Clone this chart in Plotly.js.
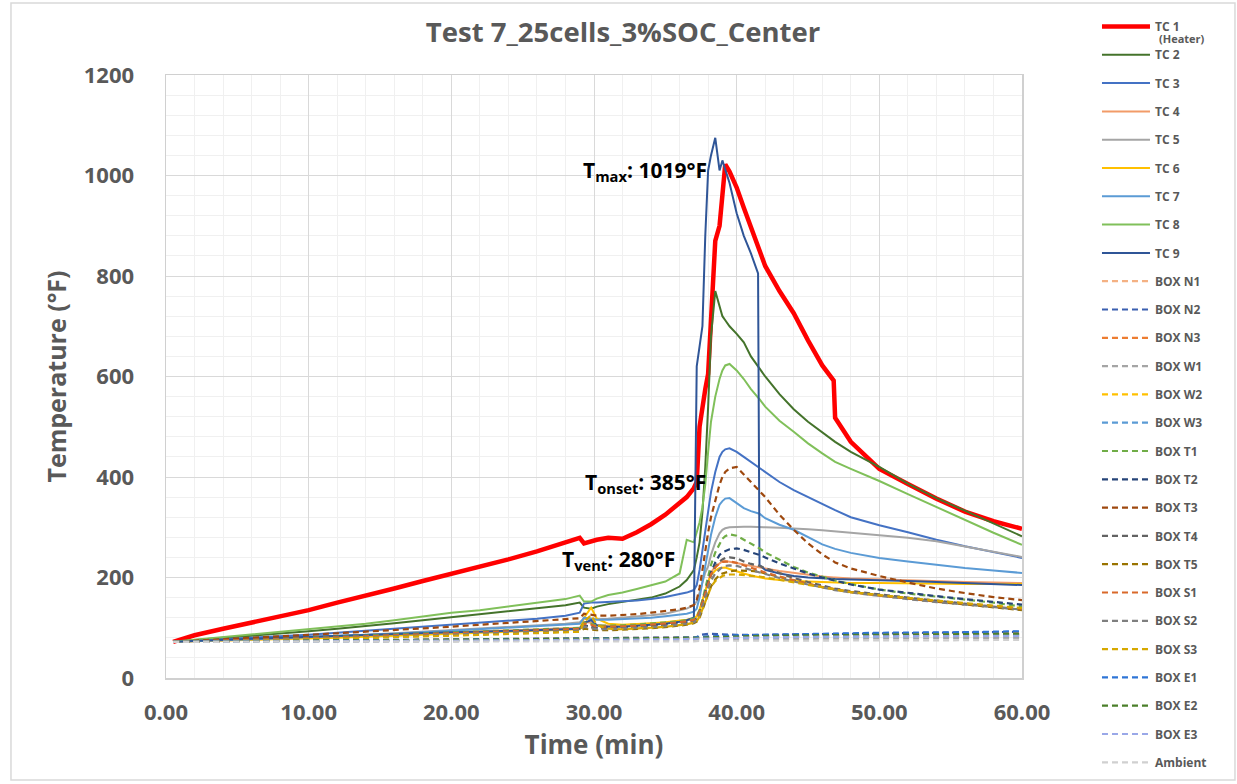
<!DOCTYPE html>
<html><head><meta charset="utf-8">
<script src="https://cdn.plot.ly/plotly-3.0.1.min.js"></script>
<style>html,body{margin:0;padding:0;background:#fff}#chart{width:1237px;height:784px}</style>
</head><body><div id="chart"></div>
<script>
// time grids (min)
const tA = [0.5,2,4,6,8,10,12,14,16,18,
  20,22,24,26,28,29,29.3,29.8,30.2,31,
  32,33,34,35,36,36.5,37,37.2,37.4,37.6,
  37.8,38,38.2,38.5,38.8,39,39.2,39.5,40,40.5,
  41,41.5,41.6,42,43,44,45,46,46.8,46.9,
  48,50,52,54,56,58,60];
const tB = [0.5,5,10,15,20,25,29,30,33,36,37,37.5,38,39,40,42,45,50,55,60];

// thermocouples (°F) on tA
const tc1 = [72,85,98,110,122,135,150,163,178,193,
  207,222,236,252,270,279,268,272,275,279,
  277,290,306,325,348,360,378,390,500,545,
  575,605,700,870,900,960,1022,1008,976,936,
  896,856,848,820,770,726,672,622,592,518,
  470,416,386,357,331,312,297];
const tc2 = [72,76,80,84,88,93,98,103,109,115,
  121,127,133,139,145,150,140,138,142,147,
  151,155,160,168,182,195,215,240,270,330,
  420,540,680,770,740,720,712,700,685,668,
  640,620,617,600,565,535,510,488,472,470,
  450,420,387,358,333,308,282];
const tc3 = [72,74,77,80,83,86,90,94,98,102,
  106,110,114,118,124,130,148,150,150,151,
  152,154,157,161,167,170,175,185,215,255,
  300,335,370,410,440,450,455,457,450,440,
  430,421,419,410,390,374,360,345,335,334,
  320,304,290,275,262,250,239];
const tc4 = [72,73,74,76,78,80,82,84,86,88,
  90,92,94,96,98,100,112,110,105,104,
  105,106,108,110,113,115,118,122,135,155,
  175,195,210,222,229,232,233,232,229,226,
  223,220,220,218,213,209,205,202,200,200,
  198,196,194,193,191,190,189];
const tc5 = [72,73,75,77,79,81,84,86,89,92,
  95,98,101,104,108,111,118,118,117,118,
  120,122,125,128,135,138,145,152,170,190,
  210,222,245,270,288,295,298,300,301,301,
  301,300,300,300,299,298,296,294,292,292,
  290,285,279,272,262,252,241];
const tc6 = [72,73,74,75,77,78,80,82,84,86,
  88,90,92,93,95,97,120,140,118,108,
  106,107,109,111,114,116,119,123,135,155,
  175,192,205,214,219,220,220,217,212,208,
  204,201,200,198,195,193,192,191,190,190,
  189,189,188,188,187,187,187];
const tc7 = [72,73,75,77,79,81,83,86,88,91,
  94,97,100,103,106,108,120,118,116,116,
  117,118,120,123,126,128,132,138,160,190,
  225,255,285,320,345,352,357,358,348,338,
  332,328,327,318,305,295,280,266,258,257,
  249,239,232,225,219,214,209];
const tc8 = [72,76,81,86,91,96,102,108,115,122,
  130,135,142,149,157,164,152,152,158,165,
  170,177,184,192,208,275,270,290,310,340,
  385,450,510,560,595,612,622,625,612,595,
  575,558,555,540,512,490,467,447,432,430,
  416,392,366,340,314,289,265];
const tc9 = [72,74,76,78,80,82,84,86,88,89,
  91,92,94,95,97,98,110,115,105,102,
  102,104,106,108,112,115,120,620,660,700,
  880,1010,1040,1075,1010,1030,1012,985,925,880,
  845,805,225,215,208,203,200,198,197,197,
  196,195,193,191,189,187,185];

// box sensors (°F) on tA
const boxT1 = [72,73,74,76,78,80,82,84,86,88,
  90,92,94,96,98,100,110,108,104,104,
  105,106,108,110,113,115,118,122,135,155,
  180,205,225,250,268,277,282,286,283,275,
  267,260,258,250,235,221,210,201,195,194,
  187,176,168,162,157,150,142];
const boxT2 = [72,73,74,76,77,79,81,83,85,87,
  89,91,93,95,97,98,104,103,100,100,
  101,102,104,106,109,111,114,118,130,150,
  170,190,210,230,245,250,253,256,258,255,
  250,246,245,240,228,218,208,200,194,193,
  186,176,169,163,157,152,146];
const boxT3 = [72,74,77,80,83,86,89,92,96,99,
  102,106,110,113,117,119,128,126,124,124,
  125,127,130,133,137,140,145,155,180,215,
  255,290,320,355,385,400,410,417,420,405,
  390,374,370,360,325,295,268,246,232,230,
  218,203,190,178,169,161,155];
const boxT4 = [72,73,74,75,77,78,80,82,84,86,
  88,90,92,94,95,96,104,102,99,99,
  100,101,103,105,108,110,113,117,128,145,
  165,185,205,222,232,236,239,240,238,232,
  227,224,223,218,208,199,191,184,179,178,
  173,166,160,154,148,142,136];
const boxT5 = [72,72,73,75,76,77,79,80,82,84,
  85,87,89,90,92,93,98,97,95,95,
  96,97,99,101,104,106,109,112,120,135,
  152,168,182,196,205,208,210,212,214,214,
  213,212,211,208,201,194,187,181,177,176,
  171,164,158,152,146,141,135];
const boxS1 = [72,73,74,76,78,79,81,83,85,87,
  89,91,93,95,97,98,108,106,102,102,
  103,104,106,108,111,113,116,120,132,150,
  170,190,206,220,228,231,232,232,229,224,
  219,215,214,210,202,194,187,181,177,176,
  171,164,158,153,148,143,138];
const boxS2 = [72,72,73,75,76,78,79,81,83,85,
  86,88,90,92,93,95,102,100,97,97,
  98,99,101,103,106,108,111,115,125,142,
  160,178,194,208,217,221,223,224,223,219,
  215,211,210,206,199,192,186,180,176,175,
  170,163,157,151,146,141,136];
const boxS3 = [72,72,73,74,76,77,78,80,81,83,
  84,86,88,89,91,92,112,125,105,98,
  97,98,100,102,105,107,110,113,122,137,
  153,168,181,193,200,203,205,206,206,205,
  204,203,202,200,195,190,185,180,177,176,
  171,165,159,154,149,144,139];

// box sensors (°F) on tB
const boxN1 = [72,73,74,75,76,76,77,78,78,79,79,80,81,82,82,83,84,85,86,87];
const boxN2 = [72,72,73,73,74,74,75,76,76,77,78,86,88,87,86,86,87,88,90,92];
const boxN3 = [72,73,74,75,76,77,78,79,79,80,81,81,82,83,84,85,86,87,88,89];
const boxW1 = [72,72,72,73,73,74,74,75,75,75,76,76,76,77,77,77,78,79,79,80];
const boxW2 = [72,73,73,74,75,76,77,78,79,80,80,81,82,83,83,84,85,86,87,88];
const boxW3 = [72,72,73,74,75,76,76,77,77,78,78,79,79,80,80,81,82,83,84,85];
const boxE1 = [72,73,74,75,76,77,78,79,79,80,81,82,83,84,85,86,88,90,91,93];
const boxE2 = [72,73,74,75,76,77,77,78,79,79,80,80,81,82,83,84,85,86,87,88];
const boxE3 = [72,72,73,74,74,75,76,76,77,77,78,78,79,79,80,81,82,83,83,84];
const ambient = [72,72,72,72,72,73,73,73,73,73,73,74,74,74,74,74,75,75,75,76];

const seriesNames = ['TC 1','TC 2','TC 3','TC 4','TC 5','TC 6','TC 7','TC 8','TC 9',
  'BOX N1','BOX N2','BOX N3','BOX W1','BOX W2','BOX W3',
  'BOX T1','BOX T2','BOX T3','BOX T4','BOX T5',
  'BOX S1','BOX S2','BOX S3','BOX E1','BOX E2','BOX E3','Ambient'];
const seriesX = [tA,tA,tA,tA,tA,tA,tA,tA,tA,
  tB,tB,tB,tB,tB,tB, tA,tA,tA,tA,tA, tA,tA,tA, tB,tB,tB,tB];
const seriesY = [tc1,tc2,tc3,tc4,tc5,tc6,tc7,tc8,tc9,
  boxN1,boxN2,boxN3,boxW1,boxW2,boxW3,
  boxT1,boxT2,boxT3,boxT4,boxT5,
  boxS1,boxS2,boxS3,boxE1,boxE2,boxE3,ambient];

// styles
const colors = ['#ff0000','#44732b','#4472c4','#f29b68','#a5a5a5','#ffc000','#5b9bd5','#80c05a','#2f5597',
  '#f4b183','#3a5fb0','#ed7d31','#a5a5a5','#ffc000','#5b9bd5',
  '#70ad47','#264478','#9e480e','#636363','#997300',
  '#d9692a','#7f7f7f','#d6a800','#2e75d6','#4b7f2a','#9aa8e8','#d0d0d0'];

const traces = seriesNames.map((n, i) => ({
  type: 'scatter', mode: 'lines', name: n, x: seriesX[i], y: seriesY[i],
  legendgroup: 'g' + i,
  line: {color: colors[i], width: i === 0 ? 4.5 : (i < 9 ? 2 : 2.2), dash: i < 9 ? 'solid' : '6px,4px'},
  hoverinfo: 'skip'
}));

const annFont = {family: 'Open Sans, sans-serif', size: 21, color: '#000000', weight: 700};
const layout = {
  width: 1237, height: 784,
  paper_bgcolor: '#ffffff', plot_bgcolor: '#ffffff',
  font: {family: 'Open Sans, sans-serif', color: '#595959'},
  margin: {l: 166, r: 215, t: 75, b: 106, autoexpand: false},
  title: {text: 'Test 7_25cells_3%SOC_Center', x: 0.5037, xref: 'container', xanchor: 'center',
          y: 0.959, yref: 'container', yanchor: 'middle',
          font: {size: 27.5, weight: 700, color: '#595959'}},
  xaxis: {range: [0, 60], tick0: 0, dtick: 10, tickformat: '.2f',
    showgrid: true, gridcolor: '#d9d9d9', gridwidth: 1,
    minor: {tick0: 0, dtick: 2, showgrid: true, gridcolor: '#f0f0f0', gridwidth: 1},
    zeroline: false, showline: true, mirror: true, linecolor: '#d0d0d0', linewidth: 1.5,
    ticks: '', ticklabelstandoff: 14,
    tickfont: {size: 22, weight: 700, color: '#595959'},
    title: {text: 'Time (min)', font: {size: 26, weight: 700, color: '#595959'}, standoff: 9}},
  yaxis: {range: [0, 1200], tick0: 0, dtick: 200,
    showgrid: true, gridcolor: '#d9d9d9', gridwidth: 1,
    minor: {tick0: 0, dtick: 40, showgrid: true, gridcolor: '#f0f0f0', gridwidth: 1},
    zeroline: false, showline: true, mirror: true, linecolor: '#d0d0d0', linewidth: 1.5,
    ticks: '', ticklabelstandoff: 26,
    tickfont: {size: 22, weight: 700, color: '#595959'},
    title: {text: 'Temperature (°F)', font: {size: 25, weight: 700, color: '#595959'}, standoff: 10}},
  legend: {x: 1.0876, xanchor: 'left', y: 0.9847, yref: 'container', yanchor: 'top',
    maxheight: 1,
    font: {size: 12, weight: 700, color: '#595959'},
    tracegroupgap: 9.3, itemwidth: 48, bgcolor: 'rgba(0,0,0,0)', traceorder: 'grouped'},
  annotations: [
    {x: 33.6, y: 1009, xref: 'x', yref: 'y', text: 'T<sub>max</sub>: 1019°F', showarrow: false, font: annFont},
    {x: 33.6, y: 388, xref: 'x', yref: 'y', text: 'T<sub>onset</sub>: 385°F', showarrow: false, font: annFont},
    {x: 31.7, y: 235, xref: 'x', yref: 'y', text: 'T<sub>vent</sub>: 280°F', showarrow: false, font: annFont},
    {x: 1.1577, y: 1.0605, xref: 'paper', yref: 'paper', xanchor: 'left', yanchor: 'middle',
     text: '(Heater)', showarrow: false, font: {size: 11, weight: 700, color: '#595959'}}
  ],
  shapes: [
    {type: 'rect', xref: 'paper', yref: 'paper', x0: -0.1811, x1: 1.2488, y0: -0.1692, y1: 1.1194,
     line: {color: '#d9d9d9', width: 1.5}, layer: 'below'}
  ]
};

Plotly.newPlot('chart', traces, layout, {displayModeBar: false, staticPlot: true});
</script>
</body></html>
